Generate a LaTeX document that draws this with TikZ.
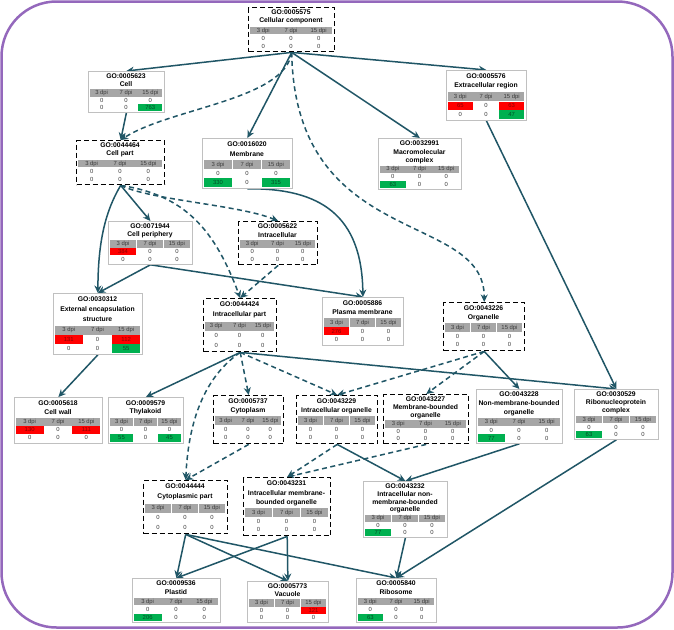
\documentclass[tikz,border=0pt]{standalone}
\usepackage{fontspec}
\setmainfont{Liberation Sans}
\usetikzlibrary{arrows.meta}
\definecolor{cred}{RGB}{255,0,0}
\definecolor{cdred}{RGB}{140,0,0}
\definecolor{cgreen}{RGB}{0,176,80}
\definecolor{cdgreen}{RGB}{0,80,40}
\definecolor{hdr}{RGB}{166,166,166}
\definecolor{hdrtext}{RGB}{60,60,60}
\definecolor{ctxt}{RGB}{60,60,60}
\definecolor{boxgray}{RGB}{192,192,192}
\definecolor{edgec}{RGB}{32,86,102}
\definecolor{frame}{RGB}{148,104,188}
\pgfdeclarelayer{bg}\pgfdeclarelayer{edges}\pgfsetlayers{bg,edges,main}

\newcommand\gobox[9]{%
  \pgfmathsetmacro\bS{#5/(34+8.5*#7)}%
  \pgfmathsetmacro\hy{#3+(10.5+8.5*#7)*\bS}%
  \pgfmathsetmacro\rh{7.5*\bS}%
  \pgfmathsetmacro\cw{(#4-3)/3}%
  \def\bx{#2}%
  \node[#6, minimum width=#4pt, minimum height=#5pt, anchor=north west, inner sep=0pt] (#1) at (#2,#3) {};
  \node[ttl] at ({#2+#4/2},{#3+5.25*\bS}) {#8};
  \foreach \nameline [count=\ii] in {#9} {\node[ttl] at ({#2+#4/2},{#3+(5.25+8.5*\ii)*\bS}) {\nameline};}
  \foreach \hd [count=\jj from 0] in {3 dpi,7 dpi,15 dpi} {
    \fill[hdr] ({#2+1.5+\jj*\cw+0.3},\hy) rectangle ({#2+1.5+(\jj+1)*\cw-0.3},{\hy+\rh});
    \node[sml, text=hdrtext] at ({#2+1.5+(\jj+0.5)*\cw},{\hy+\rh/2}) {\hd};
  }
}
\newcommand\gocells[1]{%
  \edef\gcl{#1}%
  \foreach \vv/\cc [count=\kk from 0] in \gcl {
    \pgfmathtruncatemacro\rw{\kk/3}
    \pgfmathtruncatemacro\cl{mod(\kk,3)}
    \pgfmathsetmacro\ry{\hy+\rh*(1+\rw)+0.4}
    \path[cell\cc] ({\bx+1.5+\cl*\cw+0.3},\ry) rectangle ({\bx+1.5+(\cl+1)*\cw-0.3},{\ry+\rh-0.6});
    \node[sml, txt\cc] at ({\bx+1.5+(\cl+0.5)*\cw},{\ry+\rh/2-0.3}) {\vv};
  }
}
\newcommand\zeros{0/n,0/n,0/n,0/n,0/n,0/n}

\begin{document}
\begin{tikzpicture}[x=1pt,y=-1pt,
  ttl/.style={font=\bfseries\fontsize{6.8}{7}\selectfont, inner sep=0pt, text=black},
  sml/.style={font=\fontsize{5.9}{6}\selectfont, inner sep=0pt},
  sbox/.style={draw=boxgray, fill=white, line width=0.8pt},
  dbox/.style={draw=black, fill=white, line width=1.4pt, dash pattern=on 5pt off 3pt},
  celln/.style={}, cellr/.style={fill=cred}, cellg/.style={fill=cgreen},
  txtn/.style={text=ctxt}, txtr/.style={text=cdred}, txtg/.style={text=cdgreen},
  ed/.style={draw=edgec, line width=1.5pt, -{Stealth[length=7.5pt,width=7pt]}},
  ded/.style={ed, dash pattern=on 5pt off 3.5pt}]
\useasboundingbox (0,0) rectangle (674,629);
\begin{pgfonlayer}{bg}
\fill[white] (0,0) rectangle (674,629);
\draw[frame, line width=2.5pt, rounded corners=55pt] (1.5,1.5) rectangle (672.5,627.5);
\end{pgfonlayer}

\gobox{cc}{248}{7}{86}{44}{dbox}{1}{GO:0005575}{Cellular component}
\gocells{\zeros}
\gobox{cell}{88}{71}{76}{41}{sbox}{1}{GO:0005623}{Cell}
\gocells{0/n,0/n,0/n,0/n,0/n,763/g}
\gobox{extra}{446}{70}{80}{50}{sbox}{1}{GO:0005576}{Extracellular region}
\gocells{65/r,0/n,63/r,0/n,0/n,47/g}
\gobox{cellpart}{76}{140}{88}{44}{dbox}{1}{GO:0044464}{Cell part}
\gocells{\zeros}
\gobox{membrane}{202}{138}{90}{50}{sbox}{1}{GO:0016020}{Membrane}
\gocells{0/n,0/n,0/n,330/g,0/n,315/g}
\gobox{macro}{378}{138}{83}{51}{sbox}{2}{GO:0032991}{Macromolecular,complex}
\gocells{0/n,0/n,0/n,63/g,0/n,0/n}
\gobox{cellper}{108}{221}{84}{43}{sbox}{1}{GO:0071944}{Cell periphery}
\gocells{384/r,0/n,0/n,0/n,0/n,0/n}
\gobox{intra}{238}{221}{79}{43}{dbox}{1}{GO:0005622}{Intracellular}
\gocells{\zeros}
\gobox{extenc}{53}{293}{89}{61}{sbox}{2}{GO:0030312}{External encapsulation,structure}
\gocells{131/r,0/n,112/r,0/n,0/n,55/g}
\gobox{intrapart}{203}{298}{73}{53}{dbox}{1}{GO:0044424}{Intracellular part}
\gocells{\zeros}
\gobox{plasma}{322}{297}{81}{48}{sbox}{1}{GO:0005886}{Plasma membrane}
\gocells{276/r,0/n,0/n,0/n,0/n,0/n}
\gobox{organelle}{443}{302}{81}{48}{dbox}{1}{GO:0043226}{Organelle}
\gocells{\zeros}
\gobox{cellwall}{14}{397}{88}{46}{sbox}{1}{GO:0005618}{Cell wall}
\gocells{130/r,0/n,111/r,0/n,0/n,0/n}
\gobox{thyl}{108}{397}{75}{46}{sbox}{1}{GO:0009579}{Thylakoid}
\gocells{0/n,0/n,0/n,55/g,0/n,45/g}
\gobox{cyto}{213}{395}{70}{48}{dbox}{1}{GO:0005737}{Cytoplasm}
\gocells{\zeros}
\gobox{intraorg}{296}{395}{81}{48}{dbox}{1}{GO:0043229}{Intracellular organelle}
\gocells{\zeros}
\gobox{mbo}{383}{394}{85}{49}{dbox}{2}{GO:0043227}{Membrane-bounded,organelle}
\gocells{\zeros}
\gobox{nmbo}{476}{389}{86}{54}{sbox}{2}{GO:0043228}{Non-membrane-bounded,organelle}
\gocells{0/n,0/n,0/n,77/g,0/n,0/n}
\gobox{ribo}{574}{389}{84}{50}{sbox}{2}{GO:0030529}{Ribonucleoprotein,complex}
\gocells{0/n,0/n,0/n,63/g,0/n,0/n}
\gobox{cytopart}{143}{480}{84}{53}{dbox}{1}{GO:0044444}{Cytoplasmic part}
\gocells{\zeros}
\gobox{imbo}{243}{477}{87}{58}{dbox}{2}{GO:0043231}{Intracellular membrane-,bounded organelle}
\gocells{\zeros}
\gobox{inmbo}{363}{481}{84}{56}{sbox}{3}{GO:0043232}{Intracellular non-,membrane-bounded,organelle}
\gocells{0/n,0/n,0/n,77/g,0/n,0/n}
\gobox{plastid}{132}{578}{88}{44}{sbox}{1}{GO:0009536}{Plastid}
\gocells{0/n,0/n,0/n,206/g,0/n,0/n}
\gobox{vacuole}{247}{581}{81}{41}{sbox}{1}{GO:0005773}{Vacuole}
\gocells{0/n,0/n,121/r,0/n,0/n,0/n}
\gobox{ribosome}{356}{578}{80}{44}{sbox}{1}{GO:0005840}{Ribosome}
\gocells{0/n,0/n,0/n,63/g,0/n,0/n}

\begin{pgfonlayer}{edges}
\draw[ed] (cc.south) -- (cell.north);
\draw[ded] (cc.south) .. controls (285,100) and (170,108) .. (cellpart.north);
\draw[ed] (cc.south) -- (membrane.north);
\draw[ded] (cc.south) .. controls (295,250) and (485,210) .. (organelle.north);
\draw[ed] (cc.south) -- (macro.north);
\draw[ed] (cc.south) -- (extra.north);
\draw[ed] (cell.south) -- (cellpart.north);
\draw[ed] (cellpart.south) .. controls (106,210) and (98,240) .. (extenc.north);
\draw[ed] (cellpart.south) -- (cellper.north);
\draw[ded] (cellpart.south) .. controls (150,200) and (240,205) .. (intra.north);
\draw[ded] (cellpart.south) .. controls (185,195) and (215,230) .. (intrapart.north);
\draw[ed] (cellper.south) -- (extenc.north);
\draw[ed] (cellper.south) -- (plasma.north);
\draw[ed] (membrane.south) .. controls (320,188) and (362,215) .. (plasma.north);
\draw[ded] (intra.south) -- (intrapart.north);
\draw[ed] (extra.south) -- (ribo.north);
\draw[ed] (extenc.south) -- (cellwall.north);
\draw[ed] (intrapart.south) -- (thyl.north);
\draw[ded] (intrapart.south) -- (cyto.north);
\draw[ded] (intrapart.south) -- (intraorg.north);
\draw[ed] (intrapart.south) -- (ribo.north);
\draw[ded] (intrapart.south) .. controls (200,380) and (188,430) .. (cytopart.north);
\draw[ded] (organelle.south) -- (intraorg.north);
\draw[ded] (organelle.south) -- (mbo.north);
\draw[ed] (organelle.south) -- (nmbo.north);
\draw[ded] (intraorg.south) -- (imbo.north);
\draw[ed] (intraorg.south) -- (inmbo.north);
\draw[ded] (mbo.south) -- (imbo.north);
\draw[ed] (nmbo.south) -- (inmbo.north);
\draw[ded] (cyto.south) -- (cytopart.north);
\draw[ed] (ribo.south) -- (ribosome.north);
\draw[ed] (inmbo.south) -- (ribosome.north);
\draw[ed] (cytopart.south) -- (plastid.north);
\draw[ed] (cytopart.south) -- (vacuole.north);
\draw[ed] (cytopart.south) -- (ribosome.north);
\draw[ed] (imbo.south) -- (plastid.north);
\draw[ed] (imbo.south) -- (vacuole.north);
\end{pgfonlayer}
\end{tikzpicture}
\end{document}
